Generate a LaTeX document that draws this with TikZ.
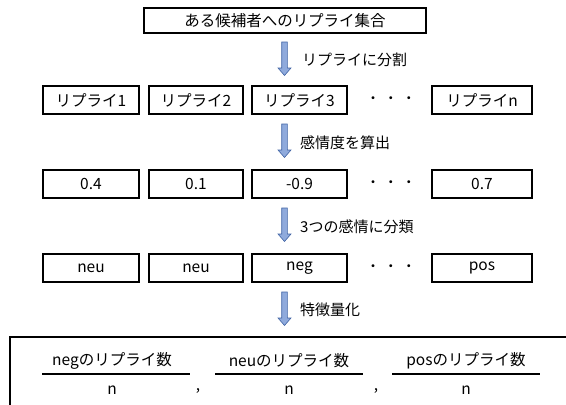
\documentclass[tikz,border=0pt]{standalone}
\usepackage{fontspec}
\setmainfont{Noto Sans CJK JP}
\definecolor{arrowfill}{RGB}{143,170,220}
\definecolor{arrowline}{RGB}{65,100,165}
\tikzset{
  box/.style={draw=black, line width=1.6pt, minimum height=28pt, inner sep=0pt, font=\fontsize{15.5}{17}\selectfont},
  lbl/.style={anchor=west, inner sep=0pt, font=\fontsize{15}{17}\selectfont},
  dots/.style={inner sep=0pt, font=\fontsize{14}{16}\selectfont},
  frac/.style={inner sep=0pt, font=\fontsize{15.5}{17}\selectfont},
  fracline/.style={line width=1.4pt},
  barrow/.pic={\filldraw[fill=arrowfill, draw=arrowline, line width=0.6pt]
     (-2.8,0) -- (2.8,0) -- (2.8,26) -- (6.5,26) -- (0,33.5) -- (-6.5,26) -- (-2.8,26) -- cycle;}
}
\begin{document}
\begin{tikzpicture}[x=1pt, y=-1pt]
\useasboundingbox (0,0) rectangle (566,405);
\clip (0,0) rectangle (566,405);
% top box
\node[box, minimum width=282pt, minimum height=25pt] (top) at (285,20.5) {ある候補者へのリプライ集合};
% arrow 1
\pic (a1) at (284.5,42) {barrow};
\node[lbl] (l1) at (302,60) {リプライに分割};
% row 1
\node[box, minimum width=96pt] (r1a) at (91,100) {リプライ1};
\node[box, minimum width=94pt] (r1b) at (196,100) {リプライ2};
\node[box, minimum width=95pt] (r1c) at (299.5,100) {リプライ3};
\node[dots] (r1d) at (391,100) {・\hspace{4pt}・\hspace{4pt}・};
\node[box, minimum width=100pt] (r1n) at (482,100) {リプライn};
% arrow 2
\pic (a2) at (284.5,124) {barrow};
\node[lbl] (l2) at (300,143) {感情度を算出};
% row 2
\node[box, minimum width=96pt] (r2a) at (91,184) {0.4};
\node[box, minimum width=94pt] (r2b) at (196,184) {0.1};
\node[box, minimum width=95pt] (r2c) at (299.5,184) {-0.9};
\node[dots] (r2d) at (391,184) {・\hspace{4pt}・\hspace{4pt}・};
\node[box, minimum width=100pt] (r2n) at (482,184) {0.7};
% arrow 3
\pic (a3) at (284.5,208) {barrow};
\node[lbl] (l3) at (300,227) {3つの感情に分類};
% row 3
\node[box, minimum width=96pt] (r3a) at (91,268) {neu};
\node[box, minimum width=94pt] (r3b) at (196,268) {neu};
\node[box, minimum width=95pt] (r3c) at (299.5,268) {neg};
\node[dots] (r3d) at (391,268) {・\hspace{4pt}・\hspace{4pt}・};
\node[box, minimum width=100pt] (r3n) at (482,268) {pos};
% arrow 4
\pic (a4) at (284.5,292) {barrow};
\node[lbl] (l4) at (300,310) {特徴量化};
% bottom box
\draw[line width=2.2pt] (10,337) rectangle (590,430);
% fractions
\coordinate (f1l) at (42,374); \coordinate (f1r) at (190,374);
\coordinate (f2l) at (215,374); \coordinate (f2r) at (363,374);
\coordinate (f3l) at (392,374); \coordinate (f3r) at (540,374);
\draw[fracline] (f1l) -- (f1r);
\draw[fracline] (f2l) -- (f2r);
\draw[fracline] (f3l) -- (f3r);
\node[frac] (n1) at (112,361) {negのリプライ数};
\node[frac] (n2) at (289,361) {neuのリプライ数};
\node[frac] (n3) at (466,361) {posのリプライ数};
\node[frac] (d1) at (112,390) {n};
\node[frac] (d2) at (289,390) {n};
\node[frac] (d3) at (466,390) {n};
\node[frac] (c1) at (198,391) {,};
\node[frac] (c2) at (376,391) {,};
\end{tikzpicture}
\end{document}
